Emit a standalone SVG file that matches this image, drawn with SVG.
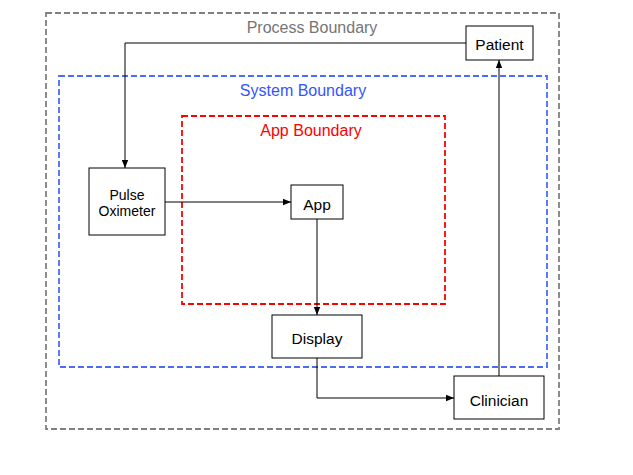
<svg xmlns="http://www.w3.org/2000/svg" width="633" height="475" viewBox="0 0 633 475">
<defs>
<marker id="ah" viewBox="0 0 10 10" refX="10" refY="5" markerWidth="8" markerHeight="8" markerUnits="userSpaceOnUse" orient="auto"><path d="M0,1 L10,5 L0,9 z" fill="#000"/></marker>
<style>
.b{fill:none;stroke-width:1.8;stroke-dasharray:6 3}
.n{fill:#fff;stroke:#000;stroke-width:1}
.t{font-family:"Liberation Sans",Arial,sans-serif;font-size:15.5px;text-anchor:middle;fill:#000}
.bl{font-family:"Liberation Sans",Arial,sans-serif;font-size:16px;text-anchor:middle}
.c{fill:none;stroke:#000;stroke-width:1;marker-end:url(#ah)}
</style>
</defs>
<rect width="633" height="475" fill="#fff"/>
<g id="process-boundary"><rect class="b" x="46" y="13" width="513" height="416" stroke="#808080"/><text class="bl" x="312" y="33" fill="#757575">Process Boundary</text></g>
<g id="system-boundary"><rect class="b" x="59" y="76" width="488" height="291" stroke="#4a6cf7"/><text class="bl" x="303" y="96" fill="#3355ff">System Boundary</text></g>
<g id="app-boundary"><rect class="b" x="182" y="116" width="263" height="188" stroke="#ff0000"/><text class="bl" x="311" y="136" fill="#ff0000">App Boundary</text></g>
<g id="connectors">
<path class="c" d="M466,43 H125 V168"/>
<path class="c" d="M165,202 H291"/>
<path class="c" d="M317,219 V315"/>
<path class="c" d="M317,358 V398 H454"/>
<path class="c" d="M499,376 V60"/>
</g>
<g id="patient"><rect class="n" x="466" y="26" width="67" height="34"/><text class="t" x="499.5" y="49.5">Patient</text></g>
<g id="pulse-oximeter"><rect class="n" x="89" y="168" width="76" height="67"/><text class="t" x="127" y="200" style="font-size:14px">Pulse</text><text class="t" x="127" y="216" style="font-size:14px">Oximeter</text></g>
<g id="app"><rect class="n" x="291" y="185" width="52" height="34"/><text class="t" x="317" y="209.5">App</text></g>
<g id="display"><rect class="n" x="272" y="315" width="90" height="43"/><text class="t" x="317" y="344">Display</text></g>
<g id="clinician"><rect class="n" x="454" y="376" width="90" height="43"/><text class="t" x="499" y="406">Clinician</text></g>
</svg>
